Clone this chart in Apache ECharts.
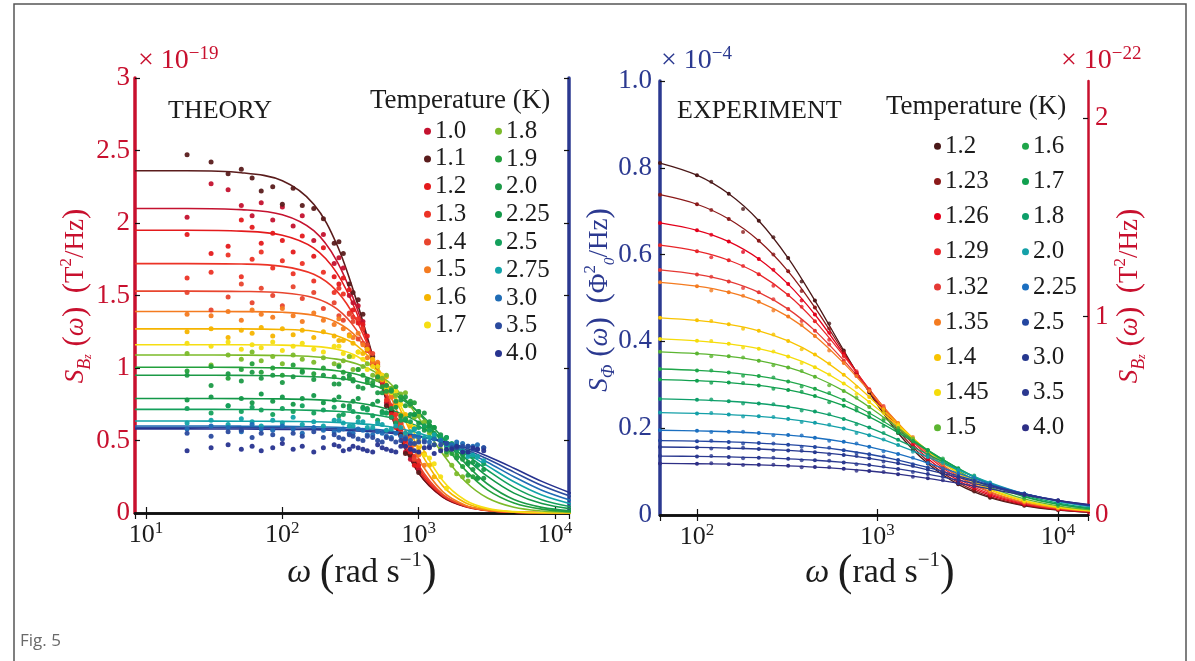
<!DOCTYPE html>
<html><head><meta charset="utf-8">
<script src="https://cdn.jsdelivr.net/npm/echarts/dist/echarts.min.js"></script>
<style>html,body{margin:0;padding:0;background:#fff}#c{width:1195px;height:661px}</style>
</head><body><div id="c"></div><script>
// ---------------- THEORY ----------------
const thTemps = ['1.0','1.1','1.2','1.3','1.4','1.5','1.6','1.7','1.8','1.9','2.0','2.25','2.5','2.75','3.0','3.5','4.0'];
const thColors = ['#c4122f','#5a1c1c','#e41a1c','#ec3326','#e8452e','#f47b20','#f5b400','#f6de12','#7cba2a','#23a03c','#1c9a47','#139848','#14a05c','#12a3a8','#1f6cb5','#2a4a9e','#27338f'];
const thW = [8.3, 20, 50, 100, 170, 250, 350, 500, 700, 1000, 1500, 2200, 3200, 5000, 8000, 13500];
const thL10  = [2.10, 2.10, 2.092, 2.057, 1.947, 1.741, 1.421, 0.969, 0.567, 0.276, 0.109, 0.043, 0.017, 0.005, 0.001, 0];
const thL11  = [2.36, 2.36, 2.347, 2.291, 2.130, 1.855, 1.466, 0.968, 0.559, 0.275, 0.112, 0.046, 0.019, 0.0065, 0.002, 0.001];
const thL12  = [1.95, 1.95, 1.944, 1.916, 1.827, 1.658, 1.383, 0.975, 0.588, 0.293, 0.118, 0.047, 0.019, 0.006, 0.002, 0];
const thL13  = [1.72, 1.72, 1.717, 1.701, 1.646, 1.532, 1.329, 0.986, 0.617, 0.312, 0.123, 0.048, 0.018, 0.006, 0.002, 0];
const thL14  = [1.53, 1.53, 1.528, 1.519, 1.485, 1.409, 1.261, 0.981, 0.641, 0.330, 0.129, 0.049, 0.018, 0.005, 0.001, 0];
const thL15  = [1.39, 1.39, 1.389, 1.384, 1.364, 1.316, 1.215, 1.000, 0.695, 0.374, 0.147, 0.054, 0.019, 0.006, 0.001, 0];
const thL16  = [1.27, 1.27, 1.27, 1.266, 1.254, 1.223, 1.156, 1.002, 0.753, 0.443, 0.187, 0.071, 0.026, 0.0075, 0.002, 0];
const thL17  = [1.16, 1.16, 1.16, 1.158, 1.149, 1.129, 1.083, 0.973, 0.776, 0.495, 0.224, 0.088, 0.032, 0.0095, 0.0026, 0.0005];
const thL18  = [1.09, 1.09, 1.089, 1.086, 1.078, 1.061, 1.029, 0.961, 0.845, 0.657, 0.408, 0.217, 0.103, 0.039, 0.0137, 0.0042];
const thL19  = [1.005, 1.005, 1.004, 1.001, 0.994, 0.981, 0.957, 0.908, 0.826, 0.689, 0.485, 0.296, 0.160, 0.0695, 0.027, 0.0092];
const thL20  = [0.95, 0.95, 0.949, 0.947, 0.940, 0.929, 0.909, 0.870, 0.805, 0.695, 0.520, 0.342, 0.200, 0.093, 0.039, 0.014];
const thL225 = [0.79, 0.79, 0.789, 0.787, 0.782, 0.773, 0.760, 0.734, 0.694, 0.626, 0.511, 0.379, 0.252, 0.137, 0.065, 0.027];
const thL25  = [0.715, 0.715, 0.714, 0.712, 0.708, 0.702, 0.692, 0.674, 0.646, 0.597, 0.514, 0.408, 0.295, 0.177, 0.092, 0.041];
const thL275 = [0.634, 0.634, 0.633, 0.632, 0.629, 0.624, 0.617, 0.605, 0.585, 0.552, 0.494, 0.417, 0.325, 0.215, 0.124, 0.060];
const thL30  = [0.60, 0.60, 0.599, 0.598, 0.595, 0.591, 0.585, 0.575, 0.559, 0.533, 0.488, 0.426, 0.350, 0.250, 0.157, 0.083];
const thL35  = [0.59, 0.59, 0.589, 0.587, 0.584, 0.580, 0.575, 0.565, 0.552, 0.529, 0.491, 0.438, 0.372, 0.282, 0.190, 0.110];
const thL40  = [0.58, 0.58, 0.579, 0.577, 0.575, 0.571, 0.566, 0.558, 0.546, 0.527, 0.494, 0.450, 0.391, 0.309, 0.218, 0.133];
const thLines = [thL10, thL11, thL12, thL13, thL14, thL15, thL16, thL17, thL18, thL19, thL20, thL225, thL25, thL275, thL30, thL35, thL40];

// simulated points, first frequency set
const thScatW = [20, 30, 40, 50, 60, 70, 85, 100, 120, 140, 170, 200, 240, 280, 330, 390, 460, 540, 630, 740, 870, 1000, 1200, 1450, 1750, 2100, 2500, 3000];
const thS10  = [2.04, 2.27, 2.23, 2.12, 2.05, 2.14, 2.02, 2.11, 1.98, 2.05, 1.88, 1.92, 1.72, 1.69, 1.45, 1.32, 1.02, 0.90, 0.66, 0.54, 0.37, 0.30];
const thS11  = [2.47, 2.42, 2.34, 2.37, 2.31, 2.22, 2.25, 2.13, 2.24, 2.12, 2.10, 2.03, 1.86, 1.79, 1.52, 1.37, 1.08, 0.92, 0.70, 0.54, 0.40, 0.28];
const thS12  = [1.92, 1.79, 1.84, 2.02, 1.97, 1.86, 1.93, 1.88, 1.80, 1.91, 1.77, 1.83, 1.63, 1.62, 1.40, 1.30, 1.04, 0.92, 0.68, 0.58, 0.42, 0.33];
const thS13  = [1.62, 1.66, 1.78, 1.63, 1.75, 1.80, 1.69, 1.74, 1.65, 1.72, 1.60, 1.66, 1.52, 1.51, 1.35, 1.27, 1.05, 0.94, 0.74, 0.62, 0.45, 0.36];
const thS14  = [1.52, 1.40, 1.49, 1.58, 1.45, 1.55, 1.50, 1.43, 1.56, 1.48, 1.52, 1.41, 1.45, 1.33, 1.32, 1.17, 1.10, 0.91, 0.80, 0.62, 0.52, 0.42];
const thS15  = [1.37, 1.36, 1.39, 1.33, 1.40, 1.37, 1.35, 1.41, 1.36, 1.32, 1.38, 1.33, 1.30, 1.27, 1.21, 1.16, 1.04, 0.95, 0.80, 0.66, 0.51, 0.40];
const thS16  = [1.25, 1.27, 1.21, 1.26, 1.24, 1.28, 1.22, 1.27, 1.23, 1.26, 1.21, 1.25, 1.22, 1.19, 1.17, 1.10, 1.06, 0.92, 0.86, 0.68, 0.60, 0.45, 0.33];
const thS17  = [1.17, 1.15, 1.18, 1.13, 1.16, 1.14, 1.18, 1.12, 1.15, 1.17, 1.13, 1.11, 1.15, 1.10, 1.08, 1.06, 1.01, 0.95, 0.83, 0.75, 0.62, 0.50, 0.38, 0.25];
const thS18  = [1.10, 1.02, 1.09, 1.06, 1.11, 1.05, 1.08, 1.03, 1.09, 1.06, 1.04, 1.07, 1.03, 1.05, 0.99, 1.01, 0.95, 0.93, 0.86, 0.82, 0.74, 0.67, 0.55, 0.44, 0.33, 0.25];
const thS19  = [0.98, 1.01, 0.93, 0.99, 1.03, 0.97, 1.00, 0.95, 1.02, 0.98, 0.96, 1.00, 0.94, 0.97, 0.92, 0.95, 0.90, 0.87, 0.85, 0.80, 0.77, 0.70, 0.60, 0.50, 0.41, 0.32, 0.25];
const thS20  = [0.95, 0.88, 0.96, 0.91, 0.97, 0.93, 0.95, 0.90, 0.94, 0.97, 0.92, 0.95, 0.89, 0.93, 0.91, 0.86, 0.88, 0.83, 0.84, 0.78, 0.75, 0.70, 0.63, 0.54, 0.45, 0.37, 0.30, 0.24];
const thS225 = [0.78, 0.80, 0.74, 0.79, 0.76, 0.82, 0.77, 0.80, 0.75, 0.79, 0.81, 0.76, 0.78, 0.74, 0.77, 0.73, 0.75, 0.70, 0.72, 0.67, 0.68, 0.62, 0.60, 0.52, 0.47, 0.40, 0.35, 0.30];
const thS25  = [0.72, 0.69, 0.74, 0.70, 0.73, 0.71, 0.68, 0.72, 0.70, 0.74, 0.69, 0.71, 0.73, 0.68, 0.70, 0.72, 0.67, 0.69, 0.66, 0.64, 0.63, 0.59, 0.57, 0.53, 0.48, 0.43, 0.39, 0.34];
const thS275 = [0.62, 0.64, 0.61, 0.65, 0.63, 0.60, 0.64, 0.62, 0.66, 0.61, 0.63, 0.60, 0.64, 0.62, 0.60, 0.63, 0.59, 0.61, 0.58, 0.59, 0.56, 0.55, 0.52, 0.50, 0.46, 0.43, 0.40, 0.36];
const thS30  = [0.58, 0.60, 0.59, 0.56, 0.61, 0.58, 0.57, 0.60, 0.58, 0.55, 0.59, 0.57, 0.56, 0.58, 0.55, 0.57, 0.54, 0.55, 0.52, 0.53, 0.50, 0.52, 0.49, 0.50, 0.47, 0.48, 0.46, 0.45];
const thS35  = [0.55, 0.53, 0.56, 0.57, 0.52, 0.55, 0.54, 0.51, 0.55, 0.53, 0.56, 0.52, 0.54, 0.51, 0.53, 0.50, 0.52, 0.49, 0.51, 0.50, 0.48, 0.49, 0.46, 0.47, 0.45, 0.46, 0.44, 0.45];
const thS40  = [0.43, 0.45, 0.47, 0.44, 0.46, 0.43, 0.45, 0.48, 0.44, 0.46, 0.42, 0.45, 0.47, 0.43, 0.46, 0.44, 0.42, 0.45, 0.43, 0.46, 0.44, 0.42, 0.45, 0.43, 0.44, 0.42, 0.45, 0.43];
const thScatter = [thS10, thS11, thS12, thS13, thS14, thS15, thS16, thS17, thS18, thS19, thS20, thS225, thS25, thS275, thS30, thS35, thS40];

// simulated points, second frequency set (dense region)
const thScatW2 = [260, 310, 360, 420, 500, 580, 680, 800, 930, 1100, 1300, 1600, 1900, 2300, 2700];
const thT10  = [1.76, 1.50, 1.43, 1.13, 1.02, 0.76, 0.64, 0.42, 0.35];
const thT11  = [1.87, 1.58, 1.47, 1.16, 1.01, 0.74, 0.63, 0.41, 0.34];
const thT12  = [1.58, 1.54, 1.31, 1.22, 0.93, 0.84, 0.59, 0.50, 0.33];
const thT13  = [1.55, 1.38, 1.34, 1.12, 1.03, 0.78, 0.68, 0.46, 0.39];
const thT14  = [1.36, 1.37, 1.20, 1.16, 0.94, 0.88, 0.64, 0.55, 0.37];
const thT15  = [1.34, 1.23, 1.24, 1.07, 1.04, 0.83, 0.76, 0.54, 0.47, 0.33];
const thT16  = [1.19, 1.22, 1.11, 1.13, 0.96, 0.94, 0.74, 0.68, 0.48, 0.41, 0.25];
const thT17  = [1.15, 1.08, 1.11, 0.99, 1.01, 0.86, 0.84, 0.65, 0.59, 0.40, 0.34, 0.17];
const thT18  = [1.02, 1.08, 0.99, 1.03, 0.92, 0.95, 0.81, 0.83, 0.66, 0.63, 0.47, 0.40, 0.27, 0.22];
const thT19  = [1.01, 0.93, 0.99, 0.90, 0.94, 0.84, 0.87, 0.74, 0.76, 0.60, 0.59, 0.42, 0.40, 0.26, 0.24];
const thT20  = [0.89, 0.95, 0.87, 0.92, 0.83, 0.88, 0.77, 0.80, 0.68, 0.69, 0.55, 0.52, 0.38, 0.35, 0.24];
const thT225 = [0.80, 0.74, 0.79, 0.72, 0.77, 0.69, 0.73, 0.64, 0.68, 0.57, 0.59, 0.46, 0.46, 0.34, 0.33];
const thT25  = [0.67, 0.72, 0.66, 0.71, 0.64, 0.69, 0.62, 0.65, 0.58, 0.60, 0.52, 0.52, 0.43, 0.42, 0.33];
const thT275 = [0.64, 0.60, 0.63, 0.59, 0.62, 0.57, 0.60, 0.55, 0.58, 0.52, 0.54, 0.47, 0.47, 0.39, 0.39];
const thT30  = [0.57, 0.55, 0.58, 0.54, 0.56, 0.53, 0.55, 0.52, 0.53, 0.50, 0.51, 0.48, 0.49, 0.46, 0.47];
const thT35  = [0.52, 0.54, 0.51, 0.53, 0.50, 0.52, 0.49, 0.51, 0.48, 0.49, 0.47, 0.48, 0.45, 0.46, 0.44];
const thT40  = [0.46, 0.44, 0.45, 0.43, 0.47, 0.44, 0.42, 0.46, 0.43, 0.45, 0.41, 0.44, 0.46, 0.42, 0.44];
const thScatter2 = [thT10, thT11, thT12, thT13, thT14, thT15, thT16, thT17, thT18, thT19, thT20, thT225, thT25, thT275, thT30, thT35, thT40];

// ---------------- EXPERIMENT ----------------
const exTemps = ['1.2','1.23','1.26','1.29','1.32','1.35','1.4','1.45','1.5','1.6','1.7','1.8','2.0','2.25','2.5','3.0','3.5','4.0'];
const exColors = ['#4a1818','#8b1a1a','#e3001b','#e8262a','#e53935','#f47b20','#f8c300','#f5dc0a','#5cb531','#1fa64a','#11a04f','#0e9f6a','#14a0a8','#1b6fc0','#2346a0','#26388f','#2b3990','#2e2f86'];
const exW = [62.4, 100, 150, 220, 320, 450, 650, 900, 1300, 1900, 2800, 4200, 6500, 10000, 15500];
const exL120 = [0.811, 0.783, 0.740, 0.678, 0.592, 0.494, 0.379, 0.282, 0.189, 0.1185, 0.0707, 0.040, 0.0213, 0.0113, 0.0059];
const exL123 = [0.738, 0.716, 0.682, 0.632, 0.5615, 0.478, 0.3755, 0.285, 0.195, 0.124, 0.0749, 0.0426, 0.0228, 0.0121, 0.0063];
const exL126 = [0.673, 0.656, 0.630, 0.590, 0.532, 0.462, 0.371, 0.288, 0.2013, 0.130, 0.0796, 0.0457, 0.0246, 0.0131, 0.0068];
const exL129 = [0.6216, 0.608, 0.587, 0.555, 0.507, 0.4467, 0.3666, 0.2897, 0.2068, 0.1363, 0.0842, 0.0487, 0.0263, 0.0141, 0.0074];
const exL132 = [0.5648, 0.5544, 0.5383, 0.513, 0.4744, 0.4248, 0.3562, 0.2875, 0.210, 0.1412, 0.0886, 0.0518, 0.0281, 0.0151, 0.0079];
const exL135 = [0.5362, 0.5273, 0.5133, 0.4911, 0.4571, 0.4126, 0.350, 0.2858, 0.2117, 0.144, 0.0912, 0.0537, 0.0293, 0.0158, 0.0083];
const exL140 = [0.4543, 0.4485, 0.4393, 0.4245, 0.4012, 0.3696, 0.3229, 0.272, 0.209, 0.1473, 0.0959, 0.0577, 0.0319, 0.0173, 0.0091];
const exL145 = [0.4058, 0.4014, 0.3945, 0.3833, 0.3654, 0.3407, 0.3029, 0.2602, 0.205, 0.1481, 0.0986, 0.0602, 0.0336, 0.0184, 0.0097];
const exL150 = [0.3759, 0.3719, 0.3657, 0.3557, 0.340, 0.3186, 0.286, 0.2489, 0.2002, 0.1485, 0.1018, 0.0642, 0.037, 0.0208, 0.0113];
const exL160 = [0.3364, 0.3331, 0.3281, 0.3201, 0.3077, 0.2908, 0.265, 0.235, 0.1946, 0.1496, 0.1067, 0.0699, 0.0419, 0.0243, 0.0136];
const exL170 = [0.3121, 0.3094, 0.3052, 0.2986, 0.2883, 0.2741, 0.252, 0.226, 0.1898, 0.1484, 0.1075, 0.0715, 0.0432, 0.0253, 0.0142];
const exL180 = [0.2675, 0.2654, 0.2621, 0.2569, 0.249, 0.2382, 0.2214, 0.2015, 0.1732, 0.1397, 0.1049, 0.0725, 0.0457, 0.0276, 0.016];
const exL200 = [0.2359, 0.234, 0.2313, 0.2273, 0.221, 0.2125, 0.1994, 0.1838, 0.1612, 0.1337, 0.1039, 0.0747, 0.049, 0.0307, 0.0184];
const exL225 = [0.1953, 0.1939, 0.1918, 0.1888, 0.1842, 0.178, 0.1686, 0.1572, 0.1406, 0.1198, 0.0963, 0.072, 0.0493, 0.0321, 0.0199];
const exL250 = [0.1714, 0.1701, 0.1684, 0.1658, 0.162, 0.1569, 0.1492, 0.140, 0.1266, 0.1096, 0.0901, 0.0693, 0.049, 0.033, 0.0211];
const exL300 = [0.1567, 0.1557, 0.1542, 0.1521, 0.1489, 0.1448, 0.1383, 0.1306, 0.1191, 0.1042, 0.0868, 0.0677, 0.0485, 0.0331, 0.0214];
const exL350 = [0.1358, 0.135, 0.1337, 0.132, 0.1295, 0.1262, 0.1211, 0.1151, 0.1061, 0.0944, 0.0804, 0.0646, 0.048, 0.0339, 0.0227];
const exL400 = [0.1188, 0.1181, 0.117, 0.1155, 0.1133, 0.1105, 0.1063, 0.1014, 0.0941, 0.0846, 0.0732, 0.060, 0.0459, 0.0334, 0.023];
const exLines = [exL120, exL123, exL126, exL129, exL132, exL135, exL140, exL145, exL150, exL160, exL170, exL180, exL200, exL225, exL250, exL300, exL350, exL400];

// measured points between the fit samples
const exScatW = [120, 180, 265, 380, 540, 765, 1080, 1570, 2300, 3430];
const exP120 = [0.768, 0.705, 0.640, 0.538, 0.441, 0.327, 0.238, 0.151, 0.096, 0.054];
const exP123 = [0.703, 0.652, 0.600, 0.516, 0.430, 0.327, 0.243, 0.157, 0.100, 0.058];
const exP126 = [0.646, 0.606, 0.565, 0.494, 0.420, 0.327, 0.247, 0.163, 0.106, 0.062];
const exP129 = [0.594, 0.574, 0.528, 0.480, 0.404, 0.331, 0.246, 0.174, 0.109, 0.067];
const exP132 = [0.549, 0.523, 0.497, 0.447, 0.393, 0.320, 0.251, 0.173, 0.116, 0.069];
const exP135 = [0.517, 0.505, 0.471, 0.438, 0.379, 0.320, 0.247, 0.180, 0.117, 0.073];
const exP140 = [0.447, 0.429, 0.416, 0.382, 0.349, 0.295, 0.243, 0.176, 0.123, 0.076];
const exP145 = [0.401, 0.386, 0.377, 0.350, 0.324, 0.279, 0.235, 0.175, 0.125, 0.078];
const exP150 = [0.366, 0.363, 0.345, 0.332, 0.299, 0.270, 0.222, 0.176, 0.124, 0.084];
const exP160 = [0.333, 0.321, 0.317, 0.296, 0.281, 0.247, 0.217, 0.170, 0.130, 0.087];
const exP170 = [0.305, 0.304, 0.291, 0.284, 0.260, 0.241, 0.205, 0.171, 0.126, 0.091];
const exP180 = [0.266, 0.257, 0.255, 0.241, 0.232, 0.209, 0.189, 0.155, 0.124, 0.088];
const exP200 = [0.235, 0.227, 0.226, 0.214, 0.208, 0.189, 0.174, 0.146, 0.120, 0.089];
const exP225 = [0.191, 0.192, 0.184, 0.183, 0.171, 0.165, 0.147, 0.132, 0.107, 0.085];
const exP250 = [0.171, 0.165, 0.165, 0.157, 0.155, 0.143, 0.135, 0.117, 0.101, 0.079];
const exP300 = [0.153, 0.155, 0.149, 0.148, 0.140, 0.136, 0.123, 0.113, 0.094, 0.078];
const exP350 = [0.136, 0.131, 0.132, 0.126, 0.125, 0.117, 0.112, 0.099, 0.088, 0.072];
const exP400 = [0.119, 0.115, 0.116, 0.110, 0.110, 0.102, 0.099, 0.088, 0.080, 0.066];
const exPoints = [exP120, exP123, exP126, exP129, exP132, exP135, exP140, exP145, exP150, exP160, exP170, exP180, exP200, exP225, exP250, exP300, exP350, exP400];

// axis tick label lists
const thYTicks = ['0','0.5','1','1.5','2','2.5','3'];
const exYTicks = ['0','0.2','0.4','0.6','0.8','1.0'];
const exY2Ticks = ['0','1','2'];

// ---------------- chart ----------------
const RED = '#c8102e', BLUE = '#2b3990', INK = '#1c1c1c';
const SERIF = '"Liberation Serif", "Times New Roman", serif';
const chart = echarts.init(document.getElementById('c'), null, {renderer: 'canvas'});

function isPow10(v) { const l = Math.log10(v); return Math.abs(l - Math.round(l)) < 1e-6; }
const xLabel = {
  show: true, margin: 7, color: INK, fontFamily: SERIF, fontSize: 26, lineHeight: 30,
  formatter: v => isPow10(v) ? '10{s|' + Math.round(Math.log10(v)) + '}' : '',
  rich: { s: { fontFamily: SERIF, fontSize: 17, lineHeight: 17, verticalAlign: 'top', color: INK } },
  showMinLabel: false, showMaxLabel: false
};
function xAxisDef(grid, pos, min, max, lab) {
  return {
    type: 'log', logBase: 10, gridIndex: grid, position: pos, min: min, max: max,
    axisLine: { show: true, lineStyle: { color: '#111', width: 2.5 } },
    axisTick: { show: true, inside: true, length: 6, lineStyle: { color: '#111', width: 1.2 } },
    axisLabel: lab ? xLabel : { show: false },
    splitLine: { show: false }
  };
}
function yAxisDef(grid, pos, min, max, interval, color, lw, labelOpt) {
  return {
    type: 'value', gridIndex: grid, position: pos, min: min, max: max, interval: interval,
    axisLine: { show: true, lineStyle: { color: color, width: lw } },
    axisTick: { show: true, inside: true, length: 5, lineStyle: { color: '#111', width: 1.2 } },
    axisLabel: labelOpt || { show: false },
    splitLine: { show: false }
  };
}
function pairs(ws, vs) {
  const out = [];
  vs.forEach((v, j) => { if (v != null) out.push([ws[j], v]); });
  return out;
}

const series = [];
thTemps.forEach((t, i) => {
  series.push({
    type: 'line', name: 't' + t, xAxisIndex: 0, yAxisIndex: 0,
    data: thW.map((w, j) => [w, thLines[i][j]]),
    smooth: 0.35, showSymbol: false, z: 2,
    lineStyle: { color: thColors[i], width: 1.6 }, itemStyle: { color: thColors[i] }
  });
});
thTemps.forEach((t, i) => {
  series.push({
    type: 'scatter', name: 't' + t, xAxisIndex: 0, yAxisIndex: 0,
    data: pairs(thScatW, thScatter[i]).concat(pairs(thScatW2, thScatter2[i])),
    symbol: 'circle', symbolSize: 5, z: 3, itemStyle: { color: thColors[i], opacity: 0.95 }
  });
});
exTemps.forEach((t, i) => {
  series.push({
    type: 'line', name: 'e' + t, xAxisIndex: 2, yAxisIndex: 2,
    data: exW.map((w, j) => [w, exLines[i][j]]),
    smooth: 0.35, showSymbol: true, symbol: 'circle', symbolSize: 4, z: 2,
    lineStyle: { color: exColors[i], width: 1.3 }, itemStyle: { color: exColors[i] }
  });
  series.push({
    type: 'scatter', name: 'e' + t, xAxisIndex: 2, yAxisIndex: 2,
    data: pairs(exScatW, exPoints[i]),
    symbol: 'circle', symbolSize: 4, z: 3, itemStyle: { color: exColors[i] }
  });
});

function legendDef(names, left, top, gap) {
  return {
    data: names.map(n => ({ name: n, icon: 'circle' })),
    orient: 'vertical', left: left, top: top, padding: 0,
    itemWidth: 7, itemHeight: 7, itemGap: gap, selectedMode: false,
    formatter: n => n.slice(1),
    textStyle: { fontFamily: SERIF, fontSize: 25, lineHeight: 24, color: INK, padding: [0, 0, 0, -1] }
  };
}

const sup = (fs) => ({ fontFamily: SERIF, fontSize: fs, lineHeight: fs, verticalAlign: 'top' });
const sub = (fs) => ({ fontFamily: SERIF, fontSize: fs, lineHeight: fs, verticalAlign: 'bottom', fontStyle: 'italic' });

function yName(x, y, text, color) {
  return {
    type: 'text', x: x, y: y, rotation: Math.PI / 2,
    style: {
      text: text, fill: color, align: 'center', verticalAlign: 'middle',
      fontFamily: SERIF, fontSize: 27,
      rich: {
        n: { fontFamily: SERIF, fontSize: 27, lineHeight: 36 },
        p: { fontFamily: SERIF, fontSize: 31, lineHeight: 36 },
        i: { fontFamily: SERIF, fontSize: 27, lineHeight: 36, fontStyle: 'italic' },
        sb: sub(18), ssb: sub(12), sp: sup(17), sp0: sub(15)
      }
    }
  };
}
function xName(x, y) {
  return {
    type: 'text', x: x, y: y,
    style: {
      text: '{i|ω}{n| }{p|(}{n|rad s}{sp|−1}{p|)}', fill: INK, align: 'center', verticalAlign: 'middle',
      rich: {
        n: { fontFamily: SERIF, fontSize: 34, lineHeight: 46 },
        i: { fontFamily: SERIF, fontSize: 34, lineHeight: 46, fontStyle: 'italic' },
        p: { fontFamily: SERIF, fontSize: 44, lineHeight: 46 },
        sp: { fontFamily: SERIF, fontSize: 21, lineHeight: 21, verticalAlign: 'top' }
      }
    }
  };
}
function mult(x, y, txt, color) {
  return {
    type: 'text', x: x, y: y,
    style: {
      text: '{n|× 10}{sp|' + txt + '}', fill: color, align: 'left', verticalAlign: 'middle',
      rich: { n: { fontFamily: SERIF, fontSize: 28, lineHeight: 32 }, sp: sup(19) }
    }
  };
}
function label(x, y, txt, fs) {
  return { type: 'text', x: x, y: y, style: { text: txt, fill: INK, fontFamily: SERIF, fontSize: fs, align: 'left', verticalAlign: 'middle' } };
}

const option = {
  animation: false,
  backgroundColor: '#ffffff',
  grid: [
    { left: 135, top: 78, width: 434, height: 435 },
    { left: 660, top: 81, width: 428, height: 434 }
  ],
  xAxis: [
    xAxisDef(0, 'bottom', 8.3, 12670, true),
    xAxisDef(0, 'top', 8.3, 12670, false),
    xAxisDef(1, 'bottom', 62.4, 14650, true),
    xAxisDef(1, 'top', 62.4, 14650, false)
  ],
  yAxis: [
    yAxisDef(0, 'left', 0, 3, 0.5, RED, 3.5, { show: true, margin: 5, color: RED, fontFamily: SERIF, fontSize: 27,
      formatter: v => thYTicks[Math.round(v / 0.5)] }),
    yAxisDef(0, 'right', 0, 3, 0.5, BLUE, 3.5, null),
    yAxisDef(1, 'left', 0, 1, 0.2, BLUE, 3.5, { show: true, margin: 8, color: BLUE, fontFamily: SERIF, fontSize: 27,
      formatter: v => exYTicks[Math.round(v / 0.2)] }),
    yAxisDef(1, 'right', 0, 2.186, 1, RED, 2.5, { show: true, margin: 7, color: RED, fontFamily: SERIF, fontSize: 27,
      showMaxLabel: false, formatter: v => Math.abs(v - Math.round(v)) < 1e-6 ? exY2Ticks[Math.round(v)] : '' })
  ],
  legend: [
    legendDef(thTemps.slice(0, 8).map(t => 't' + t), 424, 118.7, 2.7),
    legendDef(thTemps.slice(8).map(t => 't' + t), 495, 118.7, 2.8),
    legendDef(exTemps.slice(0, 9).map(t => 'e' + t), 934, 133.7, 10.2),
    legendDef(exTemps.slice(9).map(t => 'e' + t), 1022, 133.7, 10.2)
  ],
  graphic: [
    { type: 'rect', shape: { x: 14, y: 4, width: 1172, height: 700 }, style: { fill: 'none', stroke: '#555', lineWidth: 1.5 }, z: 100 },
    mult(138, 61, '−19', RED),
    mult(661, 61, '−4', BLUE),
    mult(1061, 61, '−22', RED),
    label(168, 111, 'THEORY', 26),
    label(370, 101, 'Temperature (K)', 27),
    label(677, 111, 'EXPERIMENT', 26),
    label(886, 107, 'Temperature (K)', 27),
    yName(76, 296, '{i|S}{sb|B}{ssb|z}{p| (}{i|ω}{p|)}{n|  }{p|(}{n|T}{sp|2}{n|/Hz}{p|)}', RED),
    yName(600, 300, '{i|S}{sb|Φ}{p| (}{i|ω}{p|)}{n|  }{p|(}{n|Φ}{sp|2}{sp0|0}{n|/Hz}{p|)}', BLUE),
    yName(1130, 296, '{i|S}{sb|B}{ssb|z}{p| (}{i|ω}{p|)}{n|  }{p|(}{n|T}{sp|2}{n|/Hz}{p|)}', RED),
    xName(362, 573),
    xName(880, 573),
    { type: 'text', x: 20, y: 641, style: { text: 'Fig. 5', fill: '#6a6a6a', fontFamily: '"Open Sans", "Noto Sans", sans-serif', fontSize: 17, align: 'left', verticalAlign: 'middle' } }
  ],
  series: series
};
chart.setOption(option);
</script></body></html>
